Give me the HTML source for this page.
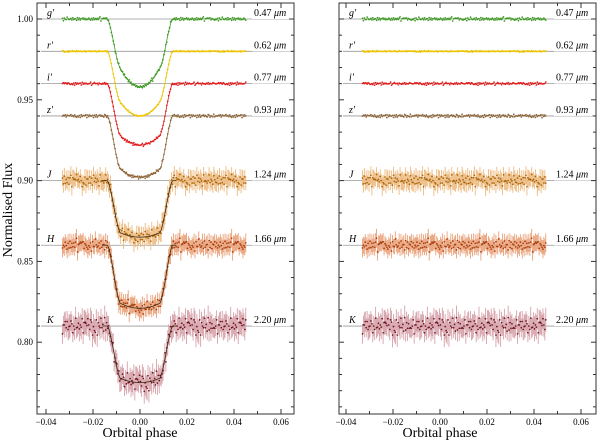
<!DOCTYPE html>
<html><head><meta charset="utf-8"><style>
html,body{margin:0;padding:0;background:#fff;}
svg{display:block;font-family:"Liberation Serif",serif;}
</style></head><body>
<svg id="chart" width="600" height="444" viewBox="0 0 600 444" xmlns="http://www.w3.org/2000/svg">
<g id="panels"></g>
<text x="12" y="210" font-size="14" text-anchor="middle" transform="rotate(-90 12 210)">Normalised Flux</text>
<text x="140" y="437" font-size="14" text-anchor="middle">Orbital phase</text>
<text x="440" y="437" font-size="14" text-anchor="middle">Orbital phase</text>
</svg>
<script>
const bands = ["g'", "r'", "i'", "z'", "J", "H", "K"];
const wavelengths = ["0.47", "0.62", "0.77", "0.93", "1.24", "1.66", "2.20"];
const baselines = [1.00, 0.98, 0.96, 0.94, 0.90, 0.86, 0.81];
const depths = [0.042, 0.040, 0.038, 0.038, 0.035, 0.039, 0.035];
const limbDark = [0.28, 0.22, 0.16, 0.14, 0.08, 0.08, 0.08];
const noiseAmp = [0.0012, 0.0005, 0.0010, 0.0011, 0.0042, 0.0040, 0.0058];
const errBars = [0, 0, 0, 0, 0.006, 0.006, 0.008];
const noise = [0.3,-0.8,0.5,0.1,-0.4,0.9,-0.2,-0.7,0.6,0.0,-0.5,0.8,-0.9,0.2,0.4,-0.3,0.7,-0.6,0.1,-0.1,0.9,-0.4,0.3,-0.8,0.5,-0.2,0.6,-0.9,0.0,0.4,-0.6,0.8,-0.3,0.2,-0.7,0.7,-0.1,0.5,-0.5,0.1,0.9,-0.8,0.3,-0.2,0.6,-0.4,0.0,0.8,-0.6,0.2,-0.9,0.4,-0.3,0.7,0.1];
const xTicks = [-0.04, -0.02, 0.00, 0.02, 0.04, 0.06];
const xTickLabels = ["\u22120.04", "\u22120.02", "0.00", "0.02", "0.04", "0.06"];
const yTicks = [1.00, 0.95, 0.90, 0.85, 0.80];
const yTickLabels = ["1.00", "0.95", "0.90", "0.85", "0.80"];
const colors = ["#3d9a22", "#eec400", "#e21b1b", "#8e6438", "#a8650c", "#a83c0c", "#6e1420"];
const errColors = ["", "", "", "", "#eebb80", "#eaa27a", "#d6a2aa"];

const NS = "http://www.w3.org/2000/svg";
const T1 = 0.0138, T2 = 0.0085, PH0 = -0.033, PH1 = 0.045, STEP = 0.0004;
const Y0 = 19, YS = 1616;
function yScale(f){ return Y0 + (1.0 - f) * YS; }
function mk(tag, attrs, parent){ const e = document.createElementNS(NS, tag); for (const k in attrs) e.setAttribute(k, attrs[k]); parent.appendChild(e); return e; }
function model(i, ph){
  const a = Math.abs(ph), D = depths[i], ld = limbDark[i];
  if (a >= T1) return baselines[i];
  if (a > T2) { const s = (T1-a)/(T1-T2); const sm = s*s*(3-2*s)*0.6 + s*0.4; return baselines[i] - D*(1-ld)*sm; }
  return baselines[i] - D*(1 - ld*(ph/T2)*(ph/T2));
}
const root = document.getElementById('panels');
const panels = [{x0:37, x1:294, cx:140, resid:false, name:'left'}, {x0:339, x1:596, cx:440, resid:true, name:'right'}];
panels.forEach(p => {
  const g = mk('g', {}, root);
  
  
  const xs = ph => p.cx + ph * 2350;
  bands.forEach((b, i) => {
    const y = yScale(baselines[i]);
    const ln = mk('line', {x1:p.x0+4, x2:p.x1, y1:y, y2:y, stroke:'#999', 'stroke-width':0.8}, g);
    
    
  });
  bands.forEach((b, i) => {
    const gs = mk('g', {}, g);
    
    
    let k = 0;
    const pts = [];
    for (let ph = PH0; ph <= PH1 + 1e-9; ph += STEP, k++) {
      const n = noise[(k * 7 + i * 13) % noise.length] * 0.6 + noise[(k + i * 5) % noise.length] * 0.6;
      const base = p.resid ? baselines[i] : model(i, ph);
      const f = base + n * noiseAmp[i];
      const x = xs(ph), y = yScale(f);
      if (errBars[i] > 0) {
        const e2 = errBars[i] * (0.7 + 0.3*Math.abs(noise[(k*3+i) % noise.length]));
        const el = mk('line', {x1:x, x2:x, y1:yScale(f+e2), y2:yScale(f-e2), stroke:errColors[i], 'stroke-width':0.9}, gs);
        
        
      }
      pts.push([x, y]);
    }
    pts.forEach(([x, y]) => {
      const c = mk('circle', {cx:x, cy:y, r:0.85, fill:colors[i]}, gs);
      
      
    });
    if (!p.resid) {
      let d = '';
      for (let ph = -0.016; ph <= 0.016; ph += 0.0005) d += (d ? 'L' : 'M') + xs(ph).toFixed(1) + ',' + yScale(model(i, ph)).toFixed(1);
      const m = mk('path', {d:d, fill:'none', stroke: i >= 4 ? '#3a2a10' : colors[i], 'stroke-width':0.8}, gs);
      
      
    }
    const y = yScale(baselines[i]);
    const bl = mk('text', {x:p.x0+10, y:y-3, 'font-size':10, 'font-style':'italic'}, g);
    bl.textContent = b;
    
    
    mk('rect', {x:p.x1-42, y:y-11, width:38, height:11, fill:'#fff'}, g);
    const wl = mk('text', {x:p.x1-40, y:y-3, 'font-size':10}, g);
    wl.innerHTML = wavelengths[i] + ' <tspan font-style="italic">\u03bcm</tspan>';
    
    
  });
  const fr = mk('rect', {x:p.x0, y:3, width:p.x1-p.x0, height:411, fill:'none', stroke:'#333', 'stroke-width':1}, g);
  
  
  for (let v = -0.04; v <= 0.0601; v += 0.01) {
    const x = xs(v), major = Math.abs(Math.round(v*100)) % 2 === 0, L = major ? 5 : 3;
    if (x < p.x0 || x > p.x1) continue;
    mk('line', {x1:x, x2:x, y1:414, y2:414-L, stroke:'#333'}, g);
    mk('line', {x1:x, x2:x, y1:3, y2:3+L, stroke:'#333'}, g);
  }
  xTicks.forEach((v, j) => {
    const t = mk('text', {x:xs(v), y:425, 'font-size':9, 'text-anchor':'middle'}, g);
    t.textContent = xTickLabels[j];
    
    
  });
  for (let v = 0.76; v <= 1.0101; v += 0.01) {
    const y = yScale(v), major = Math.round(v*100) % 5 === 0, L = major ? 5 : 3;
    if (y < 3 || y > 414) continue;
    mk('line', {x1:p.x0, x2:p.x0+L, y1:y, y2:y, stroke:'#333'}, g);
    mk('line', {x1:p.x1, x2:p.x1-L, y1:y, y2:y, stroke:'#333'}, g);
  }
  if (!p.resid) yTicks.forEach((v, j) => {
    const t = mk('text', {x:p.x0-4, y:yScale(v)+3, 'font-size':9, 'text-anchor':'end'}, g);
    t.textContent = yTickLabels[j];
    
    
  });
});
</script>
</body></html>
